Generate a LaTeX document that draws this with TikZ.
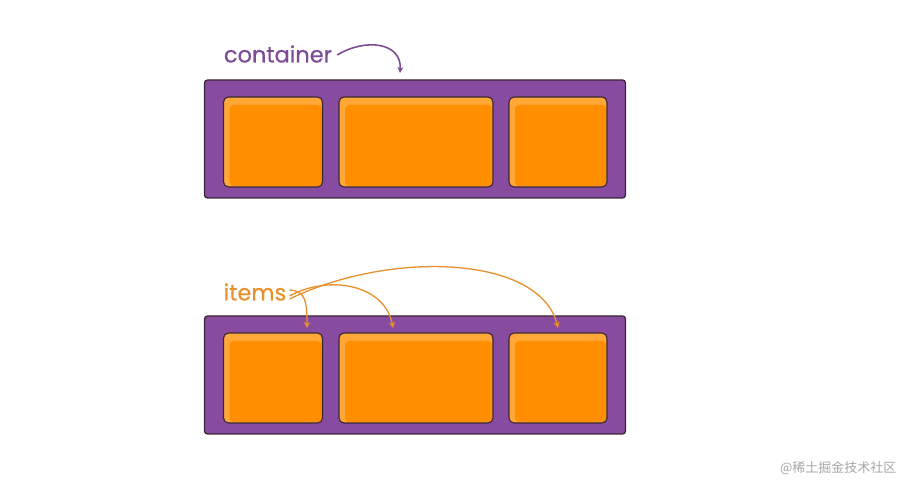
\documentclass[tikz,border=0pt]{standalone}
\usepackage{fontspec}
\setsansfont{Poppins}[FakeBold=0.5]
\newfontfamily\cjk{Noto Sans CJK SC}
\usetikzlibrary{positioning, arrows.meta}
\definecolor{boxpurple}{HTML}{874BA0}
\definecolor{labelpurple}{HTML}{7E4C95}
\definecolor{itemorange}{HTML}{FF8E00}
\definecolor{itemlight}{HTML}{FFA838}
\definecolor{labelorange}{HTML}{E8912C}
\definecolor{edgedark}{HTML}{3A2634}

\begin{document}
\begin{tikzpicture}[x=1pt, y=-1pt, font=\sffamily]
\tikzstyle{flexbox}=[draw=edgedark, line width=1.3pt, fill=boxpurple, rounded corners=3pt, minimum width=421pt, minimum height=118pt]
\tikzstyle{item}=[draw=edgedark, line width=1.1pt, fill=itemlight, rounded corners=5pt, minimum height=90pt,
  path picture={\fill[itemorange, rounded corners=4pt] ([shift={(6pt,-8pt)}]path picture bounding box.north west) rectangle ([shift={(-1pt,1pt)}]path picture bounding box.south east);}]
\tikzstyle{tag}=[inner sep=0pt, font=\sffamily\fontsize{22.5}{26}\selectfont]
\useasboundingbox (0,0) rectangle (906,486);
% top: the container
\node[flexbox] (topbox) at (415,139) {};
\node[item, minimum width=99pt] (topa) at (273,142) {};
\node[item, minimum width=154pt] (topb) at (416,142) {};
\node[item, minimum width=98pt] (topc) at (558,142) {};
\node[tag, text=labelpurple] (contlabel) at (278,54) {container};
\coordinate (contend) at (400,73);
\draw[labelpurple, line width=1.6pt, -{Stealth[length=6pt, width=6pt]}] (contlabel.east) ++(5pt,-1pt) .. controls (365,38) and (402,42) .. (contend);
% bottom: the items
\node[flexbox] (botbox) at (415,375) {};
\node[item, minimum width=99pt] (bota) at (273,378) {};
\node[item, minimum width=154pt] (botb) at (416,378) {};
\node[item, minimum width=98pt] (botc) at (558,378) {};
\node[tag, text=labelorange] (itemlabel) at (255,292) {items};
\coordinate (enda) at (307,328);
\coordinate (endb) at (393,328);
\coordinate (endc) at (558,328);
\draw[labelorange, line width=1.3pt, -{Stealth[length=6pt, width=6pt]}] ([shift={(3pt,2pt)}]itemlabel.east) .. controls (305,291) and (307,300) .. (enda);
\draw[labelorange, line width=1.3pt, -{Stealth[length=6pt, width=6pt]}] ([shift={(3pt,-4pt)}]itemlabel.east) .. controls (330,274) and (385,285) .. (endb);
\draw[labelorange, line width=1.3pt, -{Stealth[length=6pt, width=6pt]}] ([shift={(3pt,-7pt)}]itemlabel.east) .. controls (390,250) and (540,255) .. (endc);
\node[anchor=east, text=black!35, font=\cjk\fontsize{13}{15}\selectfont] (mark) at (900,468) {@稀土掘金技术社区};
\end{tikzpicture}
\end{document}
